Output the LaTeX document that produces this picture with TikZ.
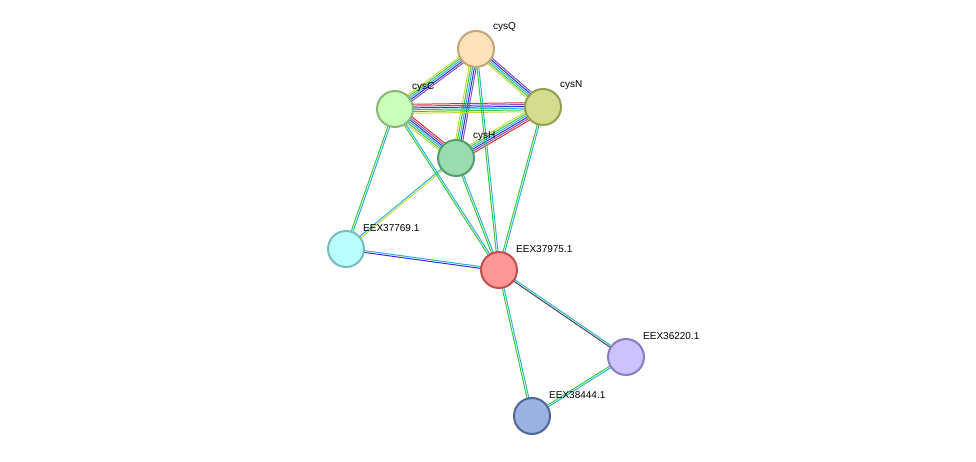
\documentclass[tikz,border=0pt]{standalone}
\usepackage{fontspec}
\setmainfont{Liberation Sans}
\usetikzlibrary{calc}
\definecolor{sgreen}{HTML}{3CC83C}
\definecolor{scyan}{HTML}{28B4D2}
\definecolor{sblue}{HTML}{3030E6}
\definecolor{sred}{HTML}{E63030}
\definecolor{syellow}{HTML}{C8D83C}
\definecolor{sblack}{HTML}{444444}
\definecolor{spurple}{HTML}{8A50B4}
\definecolor{qfill}{HTML}{FFE2BA}\definecolor{qdraw}{HTML}{C4A47A}
\definecolor{cfill}{HTML}{CAFFBA}\definecolor{cdraw}{HTML}{88B878}
\definecolor{nfill}{HTML}{D4DC8E}\definecolor{ndraw}{HTML}{94A050}
\definecolor{hfill}{HTML}{9ADCB0}\definecolor{hdraw}{HTML}{52A070}
\definecolor{afill}{HTML}{BAFFFF}\definecolor{adraw}{HTML}{78BCBC}
\definecolor{bfill}{HTML}{FF9696}\definecolor{bdraw}{HTML}{C05050}
\definecolor{dfill}{HTML}{CCC2FF}\definecolor{ddraw}{HTML}{8A7CC0}
\definecolor{efill}{HTML}{9AB2E0}\definecolor{edraw}{HTML}{506898}
\tikzset{
  prot/.style 2 args={circle, minimum size=36pt, inner sep=0pt, line width=2pt, fill=#1, draw=#2},
  lbl/.style={font=\fontsize{10pt}{11pt}\selectfont, anchor=south west, inner sep=1pt}
}
% multicoloured link: colour/offset pairs
\newcommand\lnk[3]{\foreach \c/\o in {#3}
  {\draw[\c, line width=1pt] ($(#1)!\o pt!90:(#2)$) -- ($(#2)!\o pt!-90:(#1)$);}}
\begin{document}
\begin{tikzpicture}[x=1pt, y=-1pt]
  \useasboundingbox (0,0) rectangle (976,462);
  \coordinate (Q) at (476,49);
  \coordinate (C) at (395,109);
  \coordinate (N) at (543,107);
  \coordinate (H) at (456,158);
  \coordinate (E69) at (346,249);
  \coordinate (E75) at (499,270);
  \coordinate (E20) at (626,357);
  \coordinate (E44) at (532,416);

  \lnk{Q}{C}{syellow/-3.6,sgreen/-1.8,scyan/0,sblue/1.8,spurple/3.6}
  \lnk{Q}{N}{syellow/-3.6,sgreen/-1.8,scyan/0,sblue/1.8,spurple/3.6}
  \lnk{Q}{H}{syellow/-3.6,sgreen/-1.8,scyan/0,sblue/1.8,spurple/3.6}
  \lnk{C}{N}{syellow/-4.5,sgreen/-2.7,scyan/-0.9,sblue/0.9,spurple/2.7,sred/4.5}
  \lnk{C}{H}{syellow/-4.5,sgreen/-2.7,scyan/-0.9,sblue/0.9,spurple/2.7,sred/4.5}
  \lnk{N}{H}{syellow/-4.5,sgreen/-2.7,scyan/-0.9,sblue/0.9,spurple/2.7,sred/4.5}
  \lnk{C}{E69}{sgreen/-0.9,scyan/0.9}
  \lnk{H}{E69}{scyan/-0.9,syellow/0.9}
  \lnk{C}{E75}{sgreen/-0.9,scyan/0.9}
  \lnk{Q}{E75}{sgreen/-0.9,scyan/0.9}
  \lnk{N}{E75}{sgreen/-0.9,scyan/0.9}
  \lnk{H}{E75}{sgreen/-0.9,scyan/0.9}
  \lnk{E69}{E75}{sblue/-0.9,scyan/0.9}
  \lnk{E75}{E20}{sblack/-0.9,scyan/0.9}
  \lnk{E75}{E44}{sgreen/-0.9,scyan/0.9}
  \lnk{E20}{E44}{sgreen/-0.9,scyan/0.9}

  \node[prot={qfill}{qdraw}] (cysQ) at (Q) {};
  \node[prot={cfill}{cdraw}] (cysC) at (C) {};
  \node[prot={nfill}{ndraw}] (cysN) at (N) {};
  \node[prot={hfill}{hdraw}] (cysH) at (H) {};
  \node[prot={afill}{adraw}] (eex69) at (E69) {};
  \node[prot={bfill}{bdraw}] (eex75) at (E75) {};
  \node[prot={dfill}{ddraw}] (eex20) at (E20) {};
  \node[prot={efill}{edraw}] (eex44) at (E44) {};

  \foreach \n/\t in {cysQ/cysQ, cysC/cysC, cysN/cysN, cysH/cysH, eex69/EEX37769.1,
                     eex75/EEX37975.1, eex20/EEX36220.1, eex44/EEX38444.1}
    \node[lbl] at ($(\n.center)+(16,-16)$) {\t};
\end{tikzpicture}
\end{document}
